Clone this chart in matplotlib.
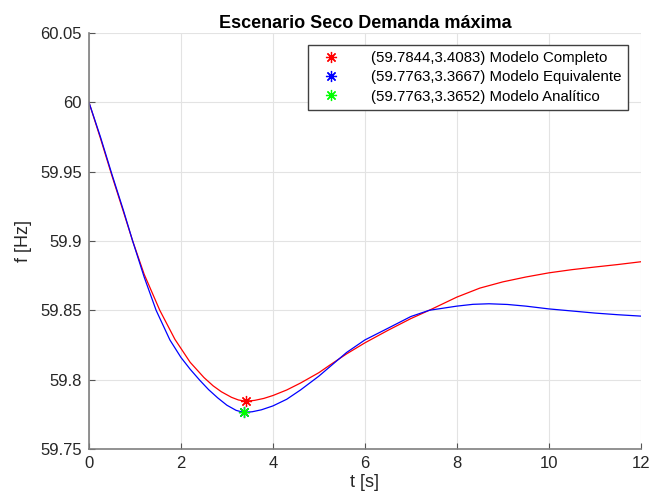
import matplotlib.pyplot as plt

plt.rcParams['font.family'] = ['Liberation Sans', 'DejaVu Sans']

# Modelo Completo (rojo)
t_comp = [0, 0.25, 0.5, 0.75, 0.95, 1.2, 1.54, 1.87, 2.2, 2.5, 2.7, 2.88, 3.1, 3.25, 3.4083,
          3.6, 3.8, 4.0, 4.3, 4.6, 5.0, 5.24, 5.6, 6.0, 6.5, 7.0, 7.4, 8.0, 8.5, 9.0, 9.5,
          10.0, 10.5, 11.0, 11.5, 12.0]
f_comp = [60.0, 59.974, 59.947, 59.921, 59.9, 59.876, 59.85, 59.829, 59.8125, 59.8015,
          59.7955, 59.7912, 59.7872, 59.7853, 59.7844, 59.785, 59.7864, 59.7885, 59.7925,
          59.7975, 59.805, 59.8105, 59.8185, 59.8265, 59.8355, 59.844, 59.850, 59.8595,
          59.866, 59.8705, 59.874, 59.877, 59.8793, 59.8812, 59.883, 59.885]

# Modelo Equivalente (azul)
t_eq = [0, 0.25, 0.5, 0.75, 0.95, 1.2, 1.46, 1.76, 2.0, 2.2, 2.41, 2.6, 2.8, 3.0, 3.2, 3.3667,
        3.55, 3.75, 4.0, 4.3, 4.6, 5.0, 5.24, 5.6, 6.0, 6.5, 7.0, 7.4, 8.0, 8.35, 8.7, 9.1,
        9.5, 10.0, 10.5, 11.0, 11.5, 12.0]
f_eq = [60.0, 59.975, 59.948, 59.922, 59.9, 59.874, 59.85, 59.8286, 59.816, 59.8075, 59.7995,
        59.7928, 59.7868, 59.7815, 59.7778, 59.7763, 59.7768, 59.7782, 59.781, 59.7858,
        59.7925, 59.8025, 59.8093, 59.8195, 59.8286, 59.837, 59.8455, 59.850, 59.853,
        59.8543, 59.8547, 59.8542, 59.853, 59.851, 59.8495, 59.848, 59.8468, 59.8458]

# Minimos
min_t = [3.4083, 3.3667, 3.3652]
min_f = [59.7844, 59.7763, 59.7763]
min_colors = ['#ff0000', '#0000ff', '#00ff00']
min_labels = ['(59.7844,3.4083) Modelo Completo',
              '(59.7763,3.3667) Modelo Equivalente',
              '(59.7763,3.3652) Modelo Analítico']

fig = plt.figure(figsize=(6.64, 5.01), dpi=100)
ax = fig.add_axes([0.134, 0.104, 0.831, 0.830])

ax.plot(t_comp, f_comp, color='#ff0000', lw=0.9)
ax.plot(t_eq, f_eq, color='#0000ff', lw=0.9)
for tm, fm, c, lab in zip(min_t, min_f, min_colors, min_labels):
    ax.plot(tm, fm, marker=(8, 2, 0), linestyle='none', color=c, markersize=8,
            markeredgewidth=0.9, label=lab)

ax.set_xlim(0, 12)
ax.set_ylim(59.75, 60.05)
ax.set_xticks([0, 2, 4, 6, 8, 10, 12])
ax.set_yticks([59.75, 59.8, 59.85, 59.9, 59.95, 60.0, 60.05])
ax.set_yticklabels(['59.75', '59.8', '59.85', '59.9', '59.95', '60', '60.05'])

ax.grid(True, color='#e3e3e3', lw=0.8)
ax.set_axisbelow(True)
for s in ['top', 'right']:
    ax.spines[s].set_visible(False)
for s in ['left', 'bottom']:
    ax.spines[s].set_color('#7f7f7f')
    ax.spines[s].set_linewidth(1.2)
ax.tick_params(direction='in', length=4, color='#555555', labelsize=12,
               labelcolor='#262626', pad=5)

ax.set_xlabel('t [s]', fontsize=13, color='#262626', labelpad=2)
ax.set_ylabel('f [Hz]', fontsize=13, color='#262626', labelpad=6)
ax.set_title('Escenario Seco Demanda máxima', fontsize=13, fontweight='bold', pad=4)

leg = ax.legend(loc='upper right', bbox_to_anchor=(0.976, 0.971), borderaxespad=0,
                fontsize=10.8, fancybox=False, framealpha=1, edgecolor='#404040',
                handletextpad=1.6, borderpad=0.4, labelspacing=0.35, handlelength=2.2)
leg.get_frame().set_linewidth(1.0)

fig.savefig('out.png', dpi=100)
